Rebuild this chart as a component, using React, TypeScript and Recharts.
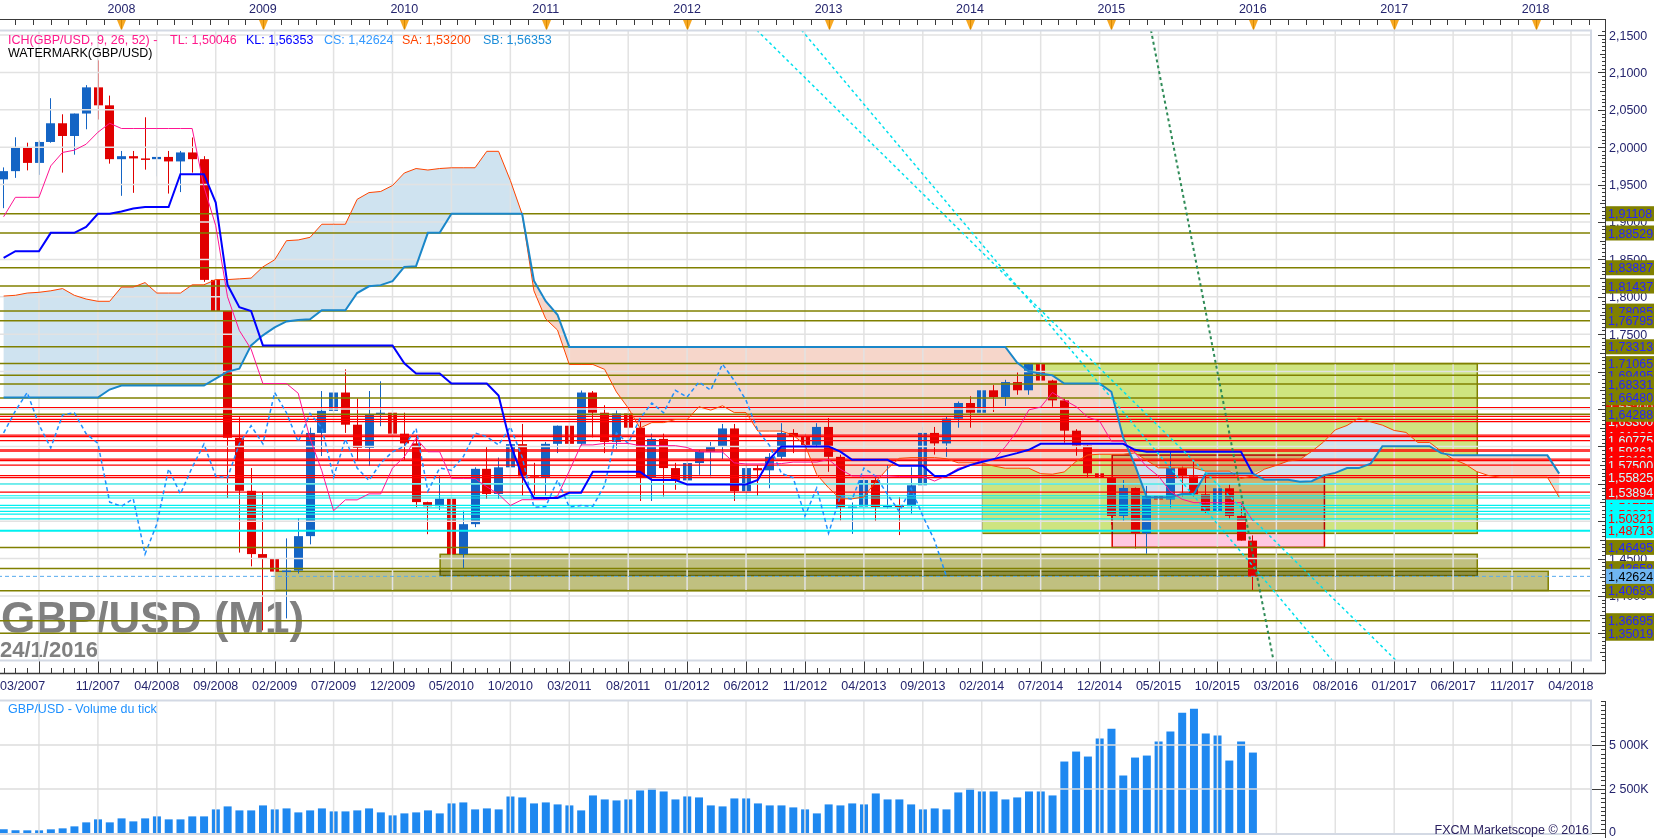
import React from 'react';
import { ComposedChart, Bar, Line, Area, XAxis, YAxis, ReferenceLine, ReferenceArea } from 'recharts';

const FONT = '"Liberation Sans", Arial, sans-serif';
const X_DOMAIN: [number, number] = [-0.307, 134.7];
const P_DOMAIN: [number, number] = [1.3144, 2.1567];
const V_DOMAIN: [number, number] = [0, 7550];
const AXIS_X = 1605;
const BULL = '#1464c4';
const BEAR = '#e00000';
const AXIS_TXT = '#25256e';

// month index 0 = 03/2007 ... 106 = 01/2016 (monthly candles)
const opens = [
  1.9570, 1.9680, 1.9995, 1.9790, 2.0070, 2.0320, 2.0150, 2.0450, 2.0800, 2.0560,
  1.9840, 1.9880, 1.9850, 1.9840, 1.9870, 1.9810, 1.9930, 1.9840, 1.8226, 1.7810,
  1.6115, 1.5406, 1.4560, 1.4500, 1.4326, 1.4340, 1.4800, 1.6180, 1.6475, 1.6720,
  1.6290, 1.5980, 1.6420, 1.6450, 1.6170, 1.6040, 1.5255, 1.5200, 1.5300, 1.4560,
  1.4960, 1.5700, 1.5364, 1.5720, 1.6030, 1.5600, 1.5580, 1.6034, 1.6276, 1.6034,
  1.6720, 1.6450, 1.6060, 1.6440, 1.6250, 1.5590, 1.6100, 1.5710, 1.5545, 1.5777,
  1.5927, 1.6000, 1.6240, 1.5400, 1.5710, 1.5680, 1.5860, 1.6180, 1.6130, 1.6020,
  1.6260, 1.5860, 1.5186, 1.5195, 1.5550, 1.5190, 1.5210, 1.5200, 1.5480, 1.6180,
  1.6040, 1.6370, 1.6580, 1.6450, 1.6750, 1.6660, 1.6860, 1.6750, 1.7100, 1.6880,
  1.6615, 1.6210, 1.6010, 1.5640, 1.5580, 1.5070, 1.5444, 1.4837, 1.5337, 1.5290,
  1.5710, 1.5600, 1.5360, 1.5130, 1.5440, 1.5070, 1.4740,
];
const highs = [
  1.9730, 2.0133, 2.0060, 2.0090, 2.0655, 2.0440, 2.0450, 2.0830, 2.1161, 2.0690,
  1.9950, 1.9950, 2.0400, 2.0030, 1.9950, 1.9950, 2.0130, 1.9880, 1.8670, 1.7810,
  1.6390, 1.5710, 1.5390, 1.4990, 1.4770, 1.5040, 1.6250, 1.6740, 1.6745, 1.7030,
  1.6640, 1.6740, 1.6870, 1.6650, 1.6450, 1.6150, 1.5260, 1.5600, 1.5300, 1.5140,
  1.5720, 1.6000, 1.5850, 1.6110, 1.6300, 1.5780, 1.6060, 1.6280, 1.6420, 1.6747,
  1.6740, 1.6550, 1.6480, 1.6620, 1.6330, 1.6170, 1.6170, 1.5780, 1.5800, 1.5950,
  1.6060, 1.6300, 1.6300, 1.5780, 1.5750, 1.5910, 1.6310, 1.6230, 1.6170, 1.6310,
  1.6380, 1.5890, 1.5250, 1.5600, 1.5600, 1.5750, 1.5320, 1.5720, 1.6260, 1.6260,
  1.6400, 1.6600, 1.6670, 1.6820, 1.6820, 1.6890, 1.6990, 1.7115, 1.7191, 1.6890,
  1.6640, 1.6230, 1.6020, 1.5790, 1.5590, 1.5550, 1.5450, 1.5470, 1.5820, 1.5930,
  1.5730, 1.5820, 1.5660, 1.5510, 1.5510, 1.5240, 1.4810,
];
const lows = [
  1.9185, 1.9590, 1.9690, 1.9630, 2.0060, 1.9660, 1.9900, 2.0240, 2.0370, 1.9780,
  1.9350, 1.9390, 1.9700, 1.9610, 1.9380, 1.9400, 1.9660, 1.8200, 1.7457, 1.5310,
  1.4580, 1.4396, 1.3540, 1.4074, 1.3700, 1.4300, 1.4690, 1.5870, 1.5710, 1.6180,
  1.5820, 1.5740, 1.6270, 1.5800, 1.5820, 1.5190, 1.4826, 1.5150, 1.4273, 1.4370,
  1.4920, 1.5300, 1.5300, 1.5650, 1.5340, 1.5350, 1.5340, 1.5910, 1.5960, 1.6010,
  1.6120, 1.5910, 1.5970, 1.6080, 1.5270, 1.5270, 1.5330, 1.5420, 1.5230, 1.5620,
  1.5600, 1.5830, 1.5270, 1.5270, 1.5340, 1.5440, 1.5830, 1.5910, 1.5830, 1.5990,
  1.5660, 1.5010, 1.4830, 1.5060, 1.5000, 1.5170, 1.4814, 1.5100, 1.5420, 1.5890,
  1.5860, 1.6250, 1.6250, 1.6250, 1.6460, 1.6540, 1.6690, 1.6690, 1.6870, 1.6530,
  1.6050, 1.5875, 1.5590, 1.5486, 1.4951, 1.4990, 1.4634, 1.4566, 1.5170, 1.5170,
  1.5330, 1.5330, 1.5110, 1.5100, 1.5030, 1.4740, 1.4080,
];
const closes = [
  1.9680, 1.9995, 1.9790, 2.0070, 2.0320, 2.0150, 2.0450, 2.0800, 2.0560, 1.9840,
  1.9880, 1.9850, 1.9840, 1.9870, 1.9810, 1.9930, 1.9840, 1.8226, 1.7810, 1.6115,
  1.5406, 1.4560, 1.4500, 1.4326, 1.4340, 1.4800, 1.6180, 1.6475, 1.6720, 1.6290,
  1.5980, 1.6420, 1.6450, 1.6170, 1.6040, 1.5255, 1.5200, 1.5300, 1.4560, 1.4960,
  1.5700, 1.5364, 1.5720, 1.6030, 1.5600, 1.5580, 1.6034, 1.6276, 1.6034, 1.6720,
  1.6450, 1.6060, 1.6440, 1.6250, 1.5590, 1.6100, 1.5710, 1.5545, 1.5777, 1.5927,
  1.6000, 1.6240, 1.5400, 1.5710, 1.5680, 1.5860, 1.6180, 1.6130, 1.6020, 1.6260,
  1.5860, 1.5186, 1.5195, 1.5550, 1.5190, 1.5210, 1.5200, 1.5480, 1.6180, 1.6040,
  1.6370, 1.6580, 1.6450, 1.6750, 1.6660, 1.6860, 1.6750, 1.7100, 1.6880, 1.6615,
  1.6210, 1.6010, 1.5640, 1.5580, 1.5070, 1.5444, 1.4837, 1.5337, 1.5290, 1.5710,
  1.5600, 1.5360, 1.5130, 1.5440, 1.5070, 1.4740, 1.42624,
];
// tick volume, thousands
const volumesK = [
  208, 151, 151, 151, 208, 264, 377, 604, 774, 604,
  830, 660, 830, 943, 774, 774, 943, 943, 1340, 1510,
  1283, 1283, 1566, 1340, 1396, 1170, 1283, 1396, 1226, 1226,
  1283, 1396, 1170, 1000, 1113, 1170, 1283, 1113, 1679, 1736,
  1340, 1396, 1340, 2075, 2019, 1679, 1736, 1623, 1566, 1283,
  2132, 1906, 1849, 1906, 2415, 2528, 2358, 1906, 2075, 2019,
  1566, 1510, 1962, 1962, 1679, 1566, 1566, 1453, 1340, 1113,
  1623, 1566, 1679, 1623, 2245, 1906, 1906, 1623, 1340, 1396,
  1340, 2302, 2528, 2358, 2358, 1906, 2019, 2358, 2358, 2132,
  4057, 4623, 4340, 5358, 5925, 3264, 4283, 4396, 5189, 5755,
  6830, 7057, 5642, 5528, 4113, 5189, 4566,
];
// Ichimoku lines
const tenkan = [
  1.907, 1.933, 1.933, 1.933, 1.975, 1.993, 1.996, 2.004, 2.020, 2.032,
  2.025, 2.025, 2.025, 2.025, 2.025, 2.025, 2.025, 1.947, 1.895, 1.800,
  1.755, 1.730, 1.684, 1.684, 1.684, 1.671, 1.6105, 1.5675, 1.514, 1.5285,
  1.5285, 1.5365, 1.5365, 1.571, 1.586, 1.611, 1.5928, 1.5928, 1.557, 1.557,
  1.557, 1.546, 1.536, 1.521, 1.5287, 1.5287, 1.5287, 1.5335, 1.567, 1.602,
  1.602, 1.604, 1.604, 1.604, 1.601, 1.601, 1.601, 1.601, 1.5985, 1.5925,
  1.5925, 1.5925, 1.578, 1.5765, 1.5765, 1.5765, 1.577, 1.579, 1.579, 1.579,
  1.5825, 1.5695, 1.5605, 1.5605, 1.5605, 1.5605, 1.5597, 1.5597, 1.5597, 1.5537,
  1.5607, 1.5707, 1.5742, 1.5817, 1.5817, 1.5995, 1.6205, 1.6488, 1.6525, 1.672,
  1.662, 1.6533, 1.639, 1.6338, 1.607, 1.607, 1.5912, 1.5728, 1.5603, 1.5398,
  1.5293, 1.5248, 1.5248, 1.5248, 1.5248, 1.5248, 1.5005,
];
const kijun = [
  1.852, 1.861, 1.861, 1.861, 1.8855, 1.8855, 1.8855, 1.8935, 1.911, 1.911,
  1.914, 1.918, 1.920, 1.920, 1.920, 1.964, 1.964, 1.964, 1.926, 1.816,
  1.786, 1.781, 1.735, 1.735, 1.735, 1.735, 1.735, 1.735, 1.735, 1.735,
  1.735, 1.735, 1.735, 1.735, 1.711, 1.6975, 1.6975, 1.6975, 1.684, 1.684,
  1.684, 1.684, 1.668, 1.6035, 1.5605, 1.531, 1.531, 1.531, 1.538, 1.538,
  1.566, 1.566, 1.566, 1.566, 1.566, 1.555, 1.555, 1.555, 1.549, 1.549,
  1.549, 1.549, 1.549, 1.549, 1.555, 1.583, 1.600, 1.600, 1.600, 1.600,
  1.600, 1.593, 1.582, 1.582, 1.582, 1.582, 1.574, 1.574, 1.574, 1.5605,
  1.5605, 1.5685, 1.575, 1.579, 1.583, 1.587, 1.591, 1.5954, 1.6035, 1.6035,
  1.6035, 1.6035, 1.6035, 1.6035, 1.6035, 1.6035, 1.5954, 1.5927, 1.5927, 1.5927,
  1.5927, 1.5927, 1.5927, 1.5927, 1.5927, 1.5927, 1.5635,
];
// senkou spans, index 0 .. 132 (26 months projected ahead)
const senkouA = [
  1.801, 1.802, 1.805, 1.806, 1.808, 1.811, 1.802, 1.797, 1.794, 1.794,
  1.813, 1.813, 1.819, 1.805, 1.805, 1.805, 1.816, 1.816, 1.823, 1.823,
  1.824, 1.825, 1.840, 1.8495, 1.875, 1.876, 1.8795, 1.897, 1.897, 1.897,
  1.9303, 1.9393, 1.9408, 1.9488, 1.9655, 1.9715, 1.9695, 1.9715, 1.9725, 1.9725,
  1.9725, 1.9945, 1.9945, 1.9555, 1.9105, 1.808, 1.7705, 1.7555, 1.7095, 1.7095,
  1.7095, 1.703, 1.6728, 1.6513, 1.6245, 1.6318, 1.6318, 1.6358, 1.6358, 1.653,
  1.6485, 1.6543, 1.6452, 1.6452, 1.6205, 1.6205, 1.6205, 1.615, 1.602, 1.5623,
  1.5446, 1.5299, 1.5299, 1.5323, 1.5525, 1.570, 1.584, 1.585, 1.585, 1.585,
  1.5835, 1.578, 1.578, 1.578, 1.5738, 1.5708, 1.5708, 1.5708, 1.5635, 1.5628,
  1.5658, 1.5798, 1.5885, 1.5895, 1.5895, 1.5895, 1.5913, 1.5813, 1.5713, 1.5713,
  1.5713, 1.5713, 1.5669, 1.5669, 1.5669, 1.5571, 1.5606, 1.5696, 1.5746, 1.5804,
  1.5824, 1.5933, 1.6058, 1.6221, 1.628, 1.6378, 1.6328, 1.6284, 1.6213, 1.6187,
  1.6053, 1.6053, 1.5933, 1.5828, 1.5765, 1.5663, 1.561, 1.5588, 1.5588, 1.5588,
  1.5588, 1.5588, 1.532,
];
const senkouB = [
  1.6652, 1.6652, 1.6652, 1.6652, 1.6652, 1.6652, 1.6652, 1.6652, 1.6652, 1.676,
  1.6814, 1.6814, 1.6814, 1.6814, 1.6814, 1.6814, 1.6814, 1.6814, 1.6905, 1.700,
  1.704, 1.735, 1.7485, 1.759, 1.767, 1.769, 1.770, 1.782, 1.782, 1.782,
  1.805, 1.814, 1.8156, 1.821, 1.840, 1.841, 1.8855, 1.8855, 1.911, 1.911,
  1.911, 1.911, 1.911, 1.911, 1.911, 1.8215, 1.794, 1.776, 1.733, 1.733,
  1.733, 1.733, 1.733, 1.733, 1.733, 1.733, 1.733, 1.733, 1.733, 1.733,
  1.733, 1.733, 1.733, 1.733, 1.733, 1.733, 1.733, 1.733, 1.733, 1.733,
  1.733, 1.733, 1.733, 1.733, 1.733, 1.733, 1.733, 1.733, 1.733, 1.733,
  1.733, 1.733, 1.733, 1.733, 1.733, 1.733, 1.712, 1.700, 1.6975, 1.695,
  1.684, 1.684, 1.684, 1.684, 1.673, 1.612, 1.575, 1.532, 1.532, 1.532,
  1.5365, 1.5365, 1.5636, 1.5636, 1.5636, 1.5636, 1.5636, 1.5553, 1.5553, 1.5553,
  1.5526, 1.5535, 1.5613, 1.5646, 1.571, 1.571, 1.577, 1.6003, 1.6003, 1.6003,
  1.6003, 1.6003, 1.591, 1.588, 1.588, 1.588, 1.588, 1.588, 1.588, 1.588,
  1.588, 1.588, 1.5636,
];
const CHIKOU_SHIFT = 26;

// horizontal levels drawn by the user
const oliveLevels = [1.91108, 1.88529, 1.83887, 1.81437, 1.78085, 1.76795, 1.73313, 1.71065, 1.69495, 1.68331, 1.6648, 1.64288, 1.46495, 1.43658, 1.40693, 1.36695, 1.35019];
const redLevels = [1.652, 1.640, 1.636, 1.633, 1.615, 1.613, 1.60775, 1.5954, 1.59361, 1.583, 1.581, 1.575, 1.561, 1.55825, 1.53894];
const cyanLevels = [1.5497, 1.534, 1.531, 1.521, 1.51777, 1.513, 1.5095, 1.50321, 1.48713];
const lastPrice = 1.42624;

// rectangles
const zones = [
  { i1: 23, i2: 131.07, p1: 1.4074, p2: 1.433, fill: '#c0c080', stroke: '#808000' },
  { i1: 37.04, i2: 125.05, p1: 1.4273, p2: 1.4557, fill: '#c0c080', stroke: '#808000' },
  { i1: 94.07, i2: 112.08, p1: 1.46495, p2: 1.5884, fill: '#ffc8e0', stroke: '#e00000' },
  { i1: 83.03, i2: 125.05, p1: 1.4837, p2: 1.71065, fill: '#cee480', stroke: '#808000' },
];
// trend lines
const trendLines = [
  { a: { x: 63.9, y: 2.1567 }, b: { x: 118.12, y: 1.3144 }, color: '#00e0ee', dash: '3 3', w: 1.5 },
  { a: { x: 67.7, y: 2.1567 }, b: { x: 112.72, y: 1.3144 }, color: '#00e0ee', dash: '3 3', w: 1.5 },
  { a: { x: 97.36, y: 2.1567 }, b: { x: 107.75, y: 1.3144 }, color: '#2e8b57', dash: '3 3', w: 2 },
];

const yearLabels = ['2008', '2009', '2010', '2011', '2012', '2013', '2014', '2015', '2016', '2017', '2018'];
const yearPos = [10, 22, 34, 46, 58, 70, 82, 94, 106, 118, 130];
const dateLabels = ['11/2007', '04/2008', '09/2008', '02/2009', '07/2009', '12/2009', '05/2010', '10/2010', '03/2011', '08/2011', '01/2012', '06/2012', '11/2012', '04/2013', '09/2013', '02/2014', '07/2014', '12/2014', '05/2015', '10/2015', '03/2016', '08/2016', '01/2017', '06/2017', '11/2017', '04/2018'];
const datePos = dateLabels.map((_, k) => 8 + 5 * k);
const firstDateLabel = '03/2007';
const gridMonths = [3, ...datePos];
const priceGrid = [1.35, 1.4, 1.45, 1.5, 1.55, 1.6, 1.65, 1.7, 1.75, 1.8, 1.85, 1.9, 1.95, 2.0, 2.05, 2.1, 2.15];
const volGrid = [2500, 5000];
const volLabels: Record<number, string> = { 0: '0', 2500: '2 500K', 5000: '5 000K' };

const fmtP = (v: number, d: number) => v.toFixed(d).replace('.', ',');

// price tags on the right axis (later entries drawn on top)
const tagList = [
  ...cyanLevels.map((p) => ({ p, bg: '#00ffff', fg: '#ff0000' })),
  ...redLevels.map((p) => ({ p, bg: '#ff0000', fg: '#c8ffff' })),
  ...oliveLevels.map((p) => ({ p, bg: '#808000', fg: '#2424ff' })),
  { p: lastPrice, bg: '#6fb6f2', fg: '#000000' },
];
const tagTicks = tagList.map((t) => t.p);

const data = senkouA.map((sa, i) => {
  const sb = senkouB[i];
  const has = i < opens.length;
  return {
    i,
    hl: has ? [lows[i], highs[i]] : null,
    o: has ? opens[i] : null,
    h: has ? highs[i] : null,
    l: has ? lows[i] : null,
    c: has ? closes[i] : null,
    vol: has ? volumesK[i] : null,
    tl: i < tenkan.length ? tenkan[i] : null,
    kl: i < kijun.length ? kijun[i] : null,
    cs: i + CHIKOU_SHIFT < closes.length ? closes[i + CHIKOU_SHIFT] : null,
    sa,
    sb,
    cloudUp: [sb, Math.max(sa, sb)],
    cloudDown: [sa, Math.max(sa, sb)],
  };
});

const bottomTicks: number[] = [];
for (let k = 0; k <= 134; k++) bottomTicks.push(k);
const topTicks: number[] = [];
for (let k = -6; 10 + 1.5 * k <= 134.5; k++) topTicks.push(10 + 1.5 * k);
const priceTicks: number[] = [];
for (let k = 263; k <= 431; k++) priceTicks.push(+(k * 0.005).toFixed(3));
const volTicks: number[] = [];
for (let k = 0; k <= 30; k++) volTicks.push(k * 250);

const Candle = (props: any) => {
  const { x, y, width, height, payload } = props;
  if (!payload || payload.o == null) return null;
  const { o, h, l, c } = payload;
  const top = Math.min(y, y + height);
  const bottom = Math.max(y, y + height);
  const py = (v: number) => top + ((h - v) / (h - l || 1)) * (bottom - top);
  const col = c >= o ? BULL : BEAR;
  const cx = Math.round(x + width / 2) + 0.5;
  const yo = py(o);
  const yc = py(c);
  const bt = Math.min(yo, yc);
  const bb = Math.max(yo, yc);
  return (
    <g>
      <line x1={cx} x2={cx} y1={top} y2={bottom} stroke={col} strokeWidth={1} />
      <rect x={cx - 4.5} y={bt} width={9} height={Math.max(1.5, bb - bt)} fill={col} />
    </g>
  );
};

const BlendRect = (props: any) => {
  const { x, y, width, height, fill, stroke } = props;
  return <rect x={x} y={y} width={width} height={height} fill={fill} stroke={stroke} strokeWidth={1.5} className="mb-mult" />;
};

const TagTick = (props: any) => {
  const { y, payload } = props;
  const t = tagList.find((q) => q.p === payload.value);
  if (!t) return null;
  return (
    <g>
      <rect x={AXIS_X + 1} y={y - 7.5} width={48} height={15} fill={t.bg} />
      <text x={AXIS_X + 3} y={y + 4.5} fontSize={12.5} fontFamily={FONT} fill={t.fg}>{fmtP(t.p, 5)}</text>
    </g>
  );
};

const BottomTick = (props: any) => {
  const { x, payload } = props;
  const v = payload.value;
  const px = Math.round(x) + 0.5;
  const major = ((v - 3) % 5 + 5) % 5 === 0;
  const idx = datePos.indexOf(v);
  return (
    <g>
      <line x1={px} x2={px} y1={major ? 661 : 668} y2={673} stroke="#3a3a3a" strokeWidth={1} />
      {idx >= 0 && (
        <text x={x} y={690} textAnchor="middle" fontSize={12.5} fontFamily={FONT} fill={AXIS_TXT}>{dateLabels[idx]}</text>
      )}
      {v === 0 && (
        <text x={0} y={690} textAnchor="start" fontSize={12.5} fontFamily={FONT} fill={AXIS_TXT}>{firstDateLabel}</text>
      )}
    </g>
  );
};

const TopTick = (props: any) => {
  const { x, payload } = props;
  const v = payload.value;
  const px = Math.round(x) + 0.5;
  const yi = yearPos.indexOf(v);
  if (yi >= 0) {
    return (
      <g>
        <text x={x} y={13} textAnchor="middle" fontSize={12.5} fontFamily={FONT} fill={AXIS_TXT}>{yearLabels[yi]}</text>
        <polygon points={`${px - 4.5},20 ${px + 4.5},20 ${px},31`} fill="#f7a823" />
        <line x1={px} x2={px} y1={20} y2={31} stroke="#d98a00" strokeWidth={1} />
      </g>
    );
  }
  return <line x1={px} x2={px} y1={19} y2={25} stroke="#3a3a3a" strokeWidth={1} />;
};

const PriceTick = (props: any) => {
  const { y, payload } = props;
  const v = payload.value;
  const py = Math.round(y) + 0.5;
  const major = Math.abs(v * 20 - Math.round(v * 20)) < 1e-6;
  const mid = !major && Math.abs(v * 40 - Math.round(v * 40)) < 1e-6;
  return (
    <g>
      <line x1={major ? 1598 : mid ? 1600 : 1602} x2={AXIS_X} y1={py} y2={py} stroke="#3a3a3a" strokeWidth={1} />
      {major && (
        <text x={AXIS_X + 4} y={y + 4.5} fontSize={12.5} fontFamily={FONT} fill={AXIS_TXT}>{fmtP(v, 4)}</text>
      )}
    </g>
  );
};

const VolTick = (props: any) => {
  const { y, payload } = props;
  const v = payload.value;
  const py = Math.round(y) + 0.5;
  const label = volLabels[v];
  return (
    <g>
      <line x1={label ? 1591 : 1601} x2={AXIS_X} y1={py} y2={py} stroke="#3a3a3a" strokeWidth={1} />
      {label && (
        <text x={AXIS_X + 4} y={Math.min(y + 4.5, 138)} fontSize={12.5} fontFamily={FONT} fill={AXIS_TXT}>{label}</text>
      )}
    </g>
  );
};

const legendItems = [
  { x: 8, text: 'ICH(GBP/USD, 9, 26, 52) -', color: '#ff1a8c' },
  { x: 170, text: 'TL: 1,50046', color: '#ff1a8c' },
  { x: 246, text: 'KL: 1,56353', color: '#0000ff' },
  { x: 324, text: 'CS: 1,42624', color: '#3399ff' },
  { x: 402, text: 'SA: 1,53200', color: '#ff4500' },
  { x: 483, text: 'SB: 1,56353', color: '#1a8cd8' },
];

export default function App() {
  return (
    <div style={{ position: 'absolute', left: 0, top: 0, width: 1663, height: 838, background: '#fff', overflow: 'hidden', fontFamily: FONT }}>
      <style>{`.mb-mult{mix-blend-mode:multiply}.recharts-area-area{mix-blend-mode:multiply}`}</style>
      <svg width={1663} height={838} style={{ position: 'absolute', left: 0, top: 0 }}>
        <text x={1} y={633} fontSize={44} fontWeight="bold" fontFamily={FONT} fill="#808080">GBP/USD (M1)</text>
        <text x={0} y={657} fontSize={22} fontWeight="bold" fontFamily={FONT} fill="#808080">24/1/2016</text>
      </svg>
      <div style={{ position: 'absolute', left: 0, top: 0 }}>
        <ComposedChart width={1663} height={698} data={data} margin={{ top: 0, right: 0, bottom: 0, left: 0 }}>
          <XAxis dataKey="i" type="number" domain={X_DOMAIN} allowDataOverflow ticks={bottomTicks} interval={0}
            tick={<BottomTick />} tickLine={false} axisLine={false} height={38} tickSize={0} />
          <XAxis xAxisId="top" orientation="top" dataKey="i" type="number" domain={X_DOMAIN} allowDataOverflow ticks={topTicks}
            interval={0} tick={<TopTick />} tickLine={false} axisLine={false} height={30} tickSize={0} />
          <YAxis orientation="right" type="number" domain={P_DOMAIN} allowDataOverflow ticks={priceTicks} interval={0}
            tick={<PriceTick />} tickLine={false} axisLine={false} width={71} tickSize={0} />
          <YAxis yAxisId="tags" orientation="right" type="number" domain={P_DOMAIN} allowDataOverflow ticks={tagTicks} interval={0}
            tick={<TagTick />} tickLine={false} axisLine={false} width={1} tickSize={0} />

          {gridMonths.map((m) => <ReferenceLine key={'gx' + m} x={m} stroke="#e2e2e2" strokeWidth={1.5} />)}
          {priceGrid.map((p) => <ReferenceLine key={'gy' + p} y={p} stroke="#e2e2e2" strokeWidth={1.5} />)}

          {zones.map((z, k) => (
            <ReferenceArea key={'z' + k} x1={z.i1} x2={z.i2} y1={z.p1} y2={z.p2} fill={z.fill} stroke={z.stroke}
              ifOverflow="hidden" shape={<BlendRect />} />
          ))}

          {cyanLevels.map((p, k) => (
            <ReferenceLine key={'c' + k} y={p} stroke="#00f0f0" strokeWidth={p === 1.48713 ? 2 : 1.2} />
          ))}
          {redLevels.map((p, k) => (
            <ReferenceLine key={'r' + k} y={p} stroke="#ff0000" strokeWidth={1.2} />
          ))}
          {oliveLevels.map((p, k) => (
            <ReferenceLine key={'o' + k} y={p} stroke="#808000" strokeWidth={1.5} />
          ))}

          <Bar dataKey="hl" barSize={9} shape={<Candle />} isAnimationActive={false} />

          <Area dataKey="cloudUp" type="linear" stroke="none" fill="#cfe3f0" fillOpacity={1} isAnimationActive={false} dot={false} activeDot={false} />
          <Area dataKey="cloudDown" type="linear" stroke="none" fill="#f6d6ca" fillOpacity={1} isAnimationActive={false} dot={false} activeDot={false} />

          <Line dataKey="sa" stroke="#ff4500" strokeWidth={1} dot={false} isAnimationActive={false} />
          <Line dataKey="sb" stroke="#1a87c9" strokeWidth={2} dot={false} isAnimationActive={false} />
          <Line dataKey="cs" stroke="#1e90ff" strokeWidth={1.5} strokeDasharray="4 3" dot={false} isAnimationActive={false} />
          <Line dataKey="tl" stroke="#ff1493" strokeWidth={1} dot={false} isAnimationActive={false} />
          <Line dataKey="kl" stroke="#0000ff" strokeWidth={2} dot={false} isAnimationActive={false} />

          {trendLines.map((t, k) => (
            <ReferenceLine key={'t' + k} segment={[t.a, t.b]} stroke={t.color} strokeWidth={t.w} strokeDasharray={t.dash} ifOverflow="hidden" />
          ))}
          <ReferenceLine y={lastPrice} stroke="#55aaee" strokeDasharray="4 3" strokeWidth={1} />
        </ComposedChart>
      </div>
      <div style={{ position: 'absolute', left: 0, top: 698 }}>
        <ComposedChart width={1663} height={140} data={data} margin={{ top: 2, right: 0, bottom: 5, left: 0 }}>
          <XAxis dataKey="i" type="number" domain={X_DOMAIN} allowDataOverflow hide />
          <YAxis orientation="right" type="number" domain={V_DOMAIN} allowDataOverflow ticks={volTicks} interval={0}
            tick={<VolTick />} tickLine={false} axisLine={false} width={72} tickSize={0} />
          {gridMonths.map((m) => <ReferenceLine key={'vx' + m} x={m} stroke="#e2e2e2" strokeWidth={1.5} />)}
          {volGrid.map((v) => <ReferenceLine key={'vy' + v} y={v} stroke="#dcdcdc" strokeWidth={1.5} />)}
          <Bar dataKey="vol" barSize={8} fill="#1e88f0" isAnimationActive={false} />
        </ComposedChart>
      </div>
      <svg width={1663} height={838} style={{ position: 'absolute', left: 0, top: 0, pointerEvents: 'none' }}>
        <line x1={0} x2={AXIS_X} y1={19.5} y2={19.5} stroke="#3a3a3a" strokeWidth={1} />
        <line x1={0} x2={AXIS_X} y1={673.5} y2={673.5} stroke="#3a3a3a" strokeWidth={1.5} />
        <line x1={AXIS_X + 0.5} x2={AXIS_X + 0.5} y1={19} y2={674} stroke="#3a3a3a" strokeWidth={1} />
        <line x1={AXIS_X + 0.5} x2={AXIS_X + 0.5} y1={701} y2={838} stroke="#3a3a3a" strokeWidth={1} />
        <rect x={-2} y={30.5} width={1593} height={630} fill="none" stroke="#d3d9e4" strokeWidth={2} />
        <rect x={-2} y={700.5} width={1593} height={133.5} fill="none" stroke="#d3d9e4" strokeWidth={2} />
        <text y={44} fontSize={12.5} fontFamily={FONT}>
          {legendItems.map((it) => (
            <tspan key={it.text} x={it.x} fill={it.color}>{it.text}</tspan>
          ))}
        </text>
        <text x={8} y={57} fontSize={12.5} fontFamily={FONT} fill="#000">WATERMARK(GBP/USD)</text>
        <text x={8} y={713} fontSize={12.5} fontFamily={FONT} fill="#1e90ff">GBP/USD - Volume du tick</text>
        <text x={1589} y={834} textAnchor="end" fontSize={12.5} fontFamily={FONT} fill="#2a2060">FXCM Marketscope © 2016</text>
      </svg>
    </div>
  );
}
